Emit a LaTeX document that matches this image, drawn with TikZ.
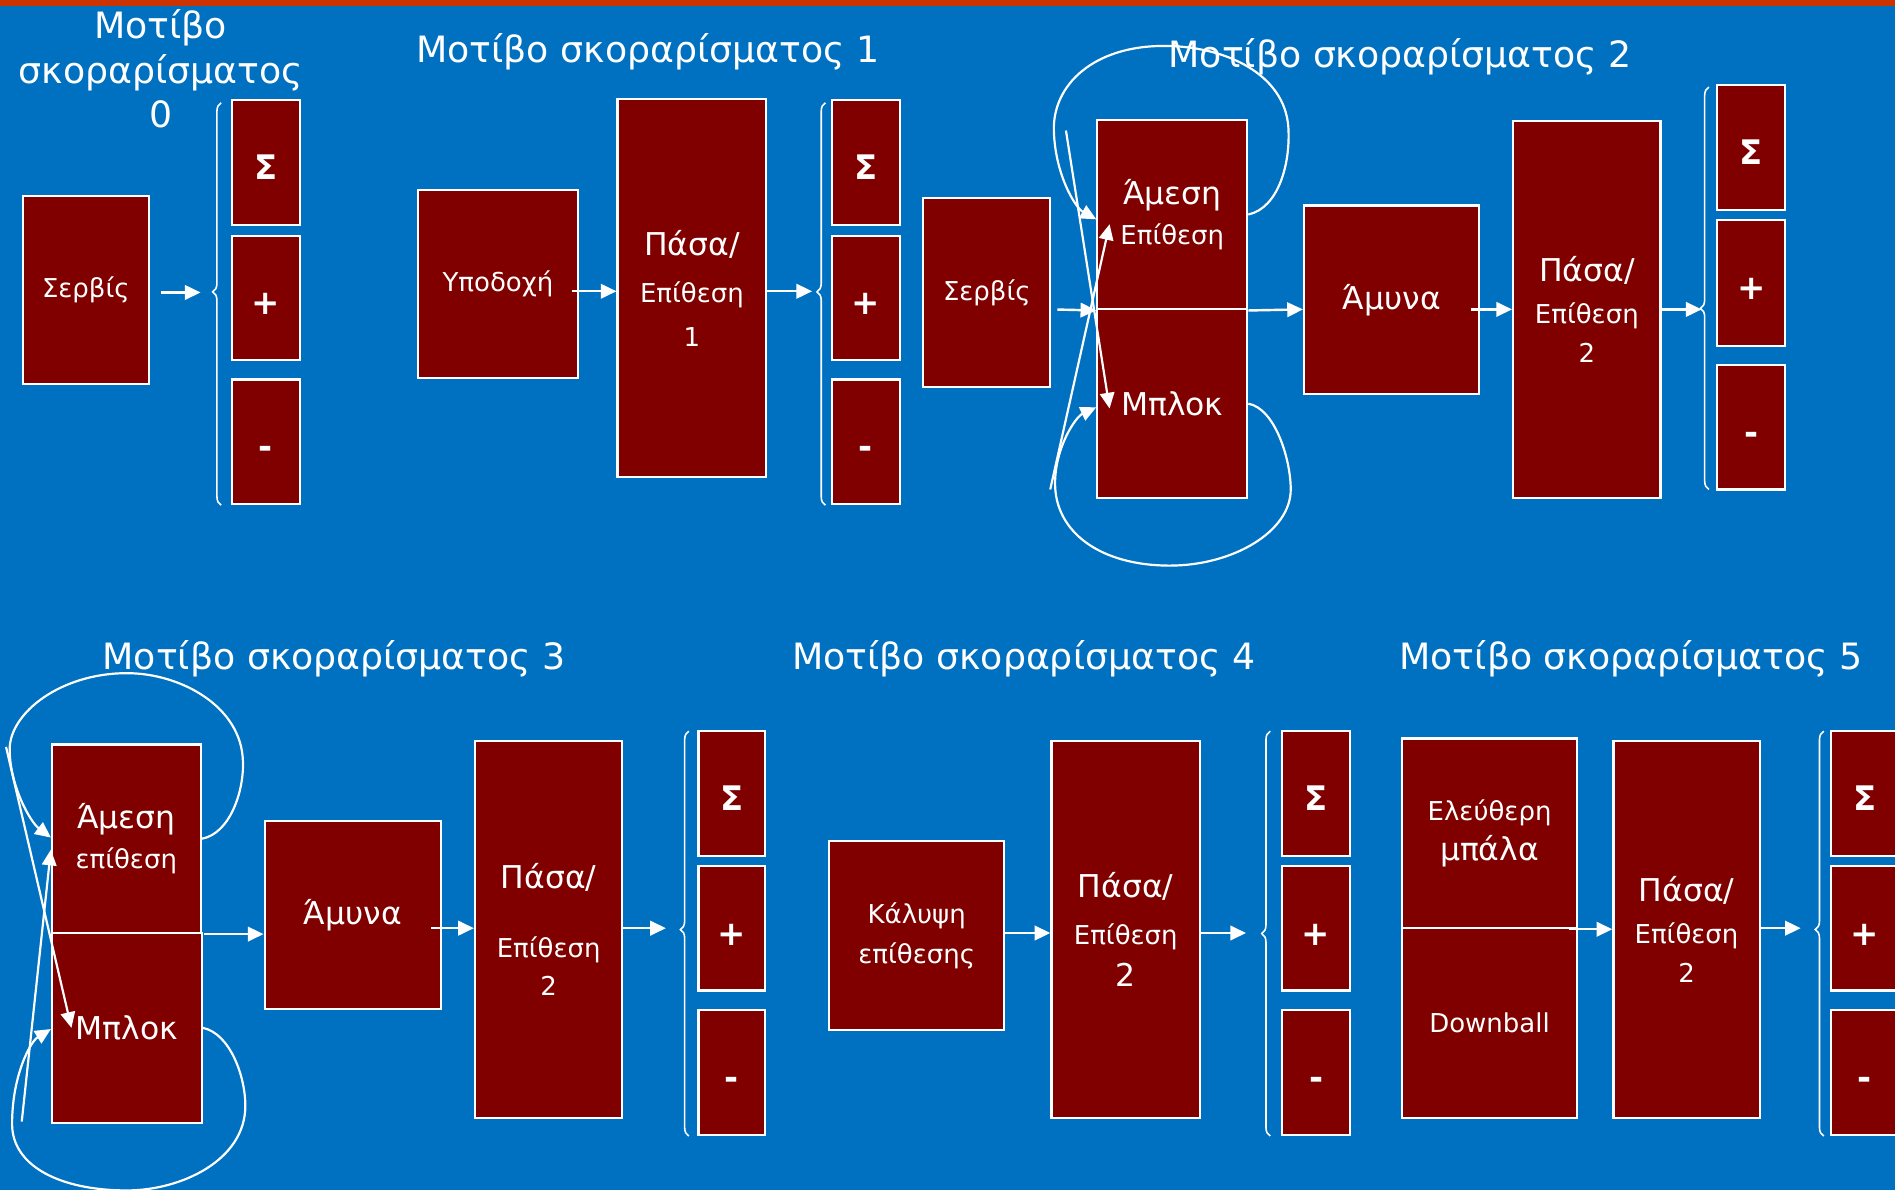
\documentclass[tikz,border=0pt]{standalone}
\usepackage{fontspec}
\setmainfont{DejaVu Sans}
\usetikzlibrary{arrows.meta,decorations.pathreplacing}
\definecolor{bgblue}{RGB}{0,112,192}
\definecolor{boxred}{RGB}{128,0,0}
\definecolor{barred}{RGB}{204,51,0}
\newcommand{\lrg}[1]{{\fontsize{26}{33}\selectfont #1}}

\begin{document}
\begin{tikzpicture}[x=1pt, y=-1pt,
    blk/.style={draw=white, line width=1.8pt, fill=boxred, text=white, inner sep=0pt, align=center, font=\fontsize{21.5}{33}\selectfont},
    scr/.style={blk, minimum width=56pt, minimum height=103pt, text height=28pt, text depth=0pt, font=\bfseries\fontsize{28}{33}\selectfont},
    ttl/.style={text=white, align=center, inner sep=0pt, font=\fontsize{30}{37}\selectfont},
    arr/.style={white, line width=2pt, -{Triangle[length=13pt,width=12pt]}},
    brc/.style={white, line width=1.3pt, decorate, decoration={brace, amplitude=7pt, aspect=#1}}]
  % Background:
  \useasboundingbox (0,0) rectangle (1568,985);
  \clip (0,0) rectangle (1568,985);
  \fill[bgblue] (0,0) rectangle (1568,985);
  \fill[barred] (0,0) rectangle (1568,5);

  % Motivo 0:
  \node[ttl] (t0) at (133,57) {Μοτίβο\\σκοραρίσματος\\0};
  \node[blk, minimum width=104pt, minimum height=156pt] (srv0) at (71,240) {Σερβίς};
  \node[scr] (sig0) at (220,134.5) {Σ};
  \node[scr] (plu0) at (220,246.5) {+};
  \node[scr] (min0) at (220,365.5) {-};
  \coordinate (br0) at (166,242);
  \draw[brc=0.53] (183,418) -- (183,85);
  \draw[arr, shorten <=9pt] (srv0.east |- br0) -- (br0);

  % Motivo 1:
  \node[ttl] (t1) at (536,43) {Μοτίβο σκοραρίσματος 1};
  \node[blk, minimum width=132pt, minimum height=156pt] (ypo) at (412,235) {Υποδοχή};
  \node[blk, minimum width=123pt, minimum height=313pt] (pas1) at (572.5,238.5) {\lrg{Πάσα/}\\[6pt]Επίθεση\\[3pt]1};
  \node[scr] (sig1) at (716.5,134.5) {Σ};
  \node[scr] (plu1) at (716.5,246.5) {+};
  \node[scr] (min1) at (716.5,365.5) {-};
  \coordinate (br1) at (672,241);
  \draw[brc=0.53] (683,418) -- (683,85);
  \draw[arr, shorten <=-6pt] (ypo.east |- br1) -- (pas1.west |- br1);
  \draw[arr] (pas1.east |- br1) -- (br1);

  % Motivo 2:
  \node[ttl] (t2) at (1158.5,47) {Μοτίβο σκοραρίσματος 2};
  \node[blk, minimum width=105pt, minimum height=156pt] (srv2) at (816.5,242) {Σερβίς};
  \node[blk, minimum width=124pt, minimum height=157pt] (ame2) at (970,177.5) {\lrg{Άμεση}\\Επίθεση};
  \node[blk, minimum width=124pt, minimum height=156pt] (blk2) at (970,334) {\lrg{Μπλοκ}};
  \node[blk, minimum width=145pt, minimum height=156pt] (amy2) at (1151.5,248) {\lrg{Άμυνα}};
  \node[blk, minimum width=122pt, minimum height=312pt] (pas2) at (1313,256) {\lrg{Πάσα/}\\[2pt]Επίθεση\\[-1pt]2};
  \node[scr, minimum height=104pt] (sig2) at (1449,122) {Σ};
  \node[scr, minimum height=104pt] (plu2) at (1449,234) {+};
  \node[scr] (min2) at (1449,353.5) {-};
  \coordinate (br2) at (1408,256);
  \coordinate (xa2) at (882,108);
  \coordinate (xb2) at (869,405);
  \draw[brc=0.45] (1414,405) -- (1414,72);
  \draw[arr, shorten <=5pt] (srv2.east |- br2) -- (ame2.south west);
  \draw[arr] (ame2.south east) -- (amy2.west |- br2);
  \draw[arr, shorten <=-8pt] (amy2.east |- br2) -- (pas2.west |- br2);
  \draw[arr] (pas2.east |- br2) -- (br2);
  \draw[arr, line width=1.8pt] (ame2.east) .. controls (1058,172) and (1068,135) .. (1066,105) .. controls (1063,62) and (1015,38) .. (963,38) .. controls (905,38) and (871,70) .. (872,108) .. controls (873,145) and (890,172) .. ([yshift=-4pt]ame2.west);
  \draw[arr, line width=1.8pt] (blk2.east) .. controls (1055,338) and (1068,380) .. (1068,405) .. controls (1068,440) and (1020,468) .. (968,468) .. controls (910,468) and (873,440) .. (873,400) .. controls (873,370) and (890,345) .. ([yshift=-3pt]blk2.west);
  \draw[arr, line width=1.8pt] (xa2) -- ([xshift=11pt, yshift=-4pt]blk2.west);
  \draw[arr, line width=1.8pt] (xb2) -- ([xshift=11pt, yshift=-8pt]ame2.west);

  % Motivo 3:
  \node[ttl] (t3) at (276.5,545) {Μοτίβο σκοραρίσματος 3};
  \node[blk, minimum width=123pt, minimum height=156pt] (ame3) at (104.5,694) {\lrg{Άμεση}\\επίθεση};
  \node[blk, minimum width=124pt, minimum height=157pt] (blk3) at (105,850.5) {\lrg{Μπλοκ}};
  \node[blk, minimum width=146pt, minimum height=156pt] (amy3) at (292,757) {\lrg{Άμυνα}};
  \node[blk, minimum width=122pt, minimum height=312pt] (pas3) at (454,769) {\lrg{Πάσα/}\\[24pt]Επίθεση\\[-1pt]2};
  \node[scr, minimum width=55pt] (sig3) at (605.5,656.5) {Σ};
  \node[scr, minimum width=55pt] (plu3) at (605.5,768) {+};
  \node[scr, minimum width=55pt] (min3) at (605.5,887.5) {-};
  \coordinate (br3) at (551,768);
  \coordinate (xa3) at (5,618);
  \coordinate (xb3) at (18,928);
  \draw[brc=0.51] (570,940) -- (570,605);
  \draw[arr] ([xshift=2pt]ame3.south east) -- (amy3.west |- ame3.south east);
  \draw[arr, shorten <=-9pt] (amy3.east |- br3) -- (pas3.west |- br3);
  \draw[arr] (pas3.east |- br3) -- (br3);
  \draw[arr, line width=1.8pt] (ame3.east) .. controls (190,690) and (202,655) .. (201,630) .. controls (200,585) and (150,557) .. (105,557) .. controls (50,557) and (8,590) .. (8,620) .. controls (8,650) and (25,680) .. ([yshift=1pt]ame3.west);
  \draw[arr, line width=1.8pt] (blk3.east) .. controls (190,855) and (203,890) .. (203,915) .. controls (203,960) and (150,985) .. (105,985) .. controls (50,985) and (10,965) .. (10,930) .. controls (10,890) and (25,862) .. ([yshift=-1pt]blk3.west);
  \draw[arr, line width=1.8pt] (xa3) -- ([xshift=17pt]blk3.west);
  \draw[arr, line width=1.8pt] (xb3) -- ([yshift=-9pt]ame3.west);

  % Motivo 4:
  \node[ttl] (t4) at (847,545) {Μοτίβο σκοραρίσματος 4};
  \node[blk, minimum width=145pt, minimum height=156pt] (kal) at (758.5,774) {Κάλυψη\\επίθεσης};
  \node[blk, minimum width=123pt, minimum height=312pt] (pas4) at (931.5,769) {\lrg{Πάσα/}\\[6pt]Επίθεση\\[1pt]\lrg{2}};
  \node[scr] (sig4) at (1089,656.5) {Σ};
  \node[scr] (plu4) at (1089,768) {+};
  \node[scr] (min4) at (1089,887.5) {-};
  \coordinate (br4) at (1031,772);
  \draw[brc=0.5] (1051,940) -- (1051,605);
  \draw[arr] (kal.east |- br4) -- (pas4.west |- br4);
  \draw[arr] (pas4.east |- br4) -- (br4);

  % Motivo 5:
  \node[ttl] (t5) at (1349.5,545) {Μοτίβο σκοραρίσματος 5};
  \node[blk, minimum width=145pt, minimum height=157pt] (ele) at (1232.5,689.5) {Ελεύθερη\\\lrg{μπάλα}};
  \node[blk, minimum width=145pt, minimum height=157pt] (dwn) at (1232.5,846.5) {Downball};
  \node[blk, minimum width=121pt, minimum height=312pt] (pas5) at (1395.5,769) {\lrg{Πάσα/}\\[2pt]Επίθεση\\[-1pt]2};
  \node[scr] (sig5) at (1543,656.5) {Σ};
  \node[scr] (plu5) at (1543,768) {+};
  \node[scr] (min5) at (1543,887.5) {-};
  \coordinate (br5) at (1490,768);
  \draw[brc=0.51] (1509,940) -- (1509,605);
  \draw[arr, shorten <=-8pt] (ele.south east) -- (pas5.west |- ele.south east);
  \draw[arr] (pas5.east |- br5) -- (br5);
\end{tikzpicture}
\end{document}
